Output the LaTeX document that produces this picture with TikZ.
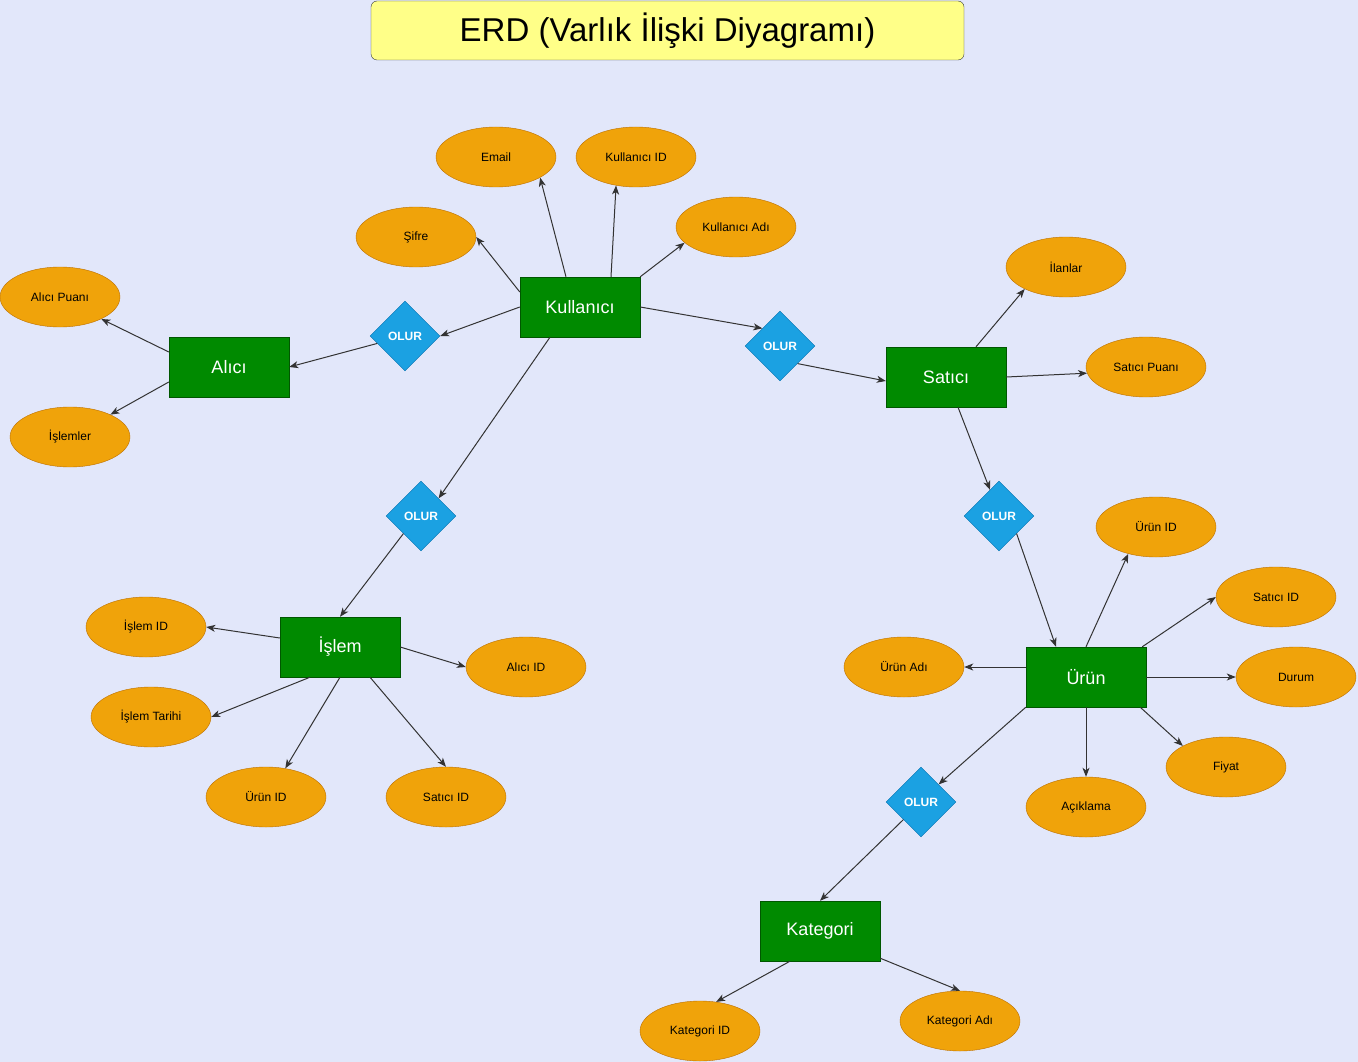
\documentclass[tikz,border=0pt]{standalone}
\usepackage{fontspec}
\setmainfont{Liberation Sans}
\usetikzlibrary{shapes.geometric,arrows.meta}
\definecolor{bgcol}{HTML}{E2E7FA}
\definecolor{entfill}{HTML}{008A00}
\definecolor{entline}{HTML}{005700}
\definecolor{attfill}{HTML}{F0A30A}
\definecolor{attline}{HTML}{BD7000}
\definecolor{relfill}{HTML}{1BA1E2}
\definecolor{relline}{HTML}{006EAF}
\definecolor{linkcol}{HTML}{333333}
\definecolor{titlefill}{HTML}{FFFF88}
\definecolor{titleline}{HTML}{36393D}
\begin{document}
\begin{tikzpicture}[x=1pt,y=-1pt,
  entity/.style={draw=entline,fill=entfill,text=white,minimum width=120pt,minimum height=60pt,inner sep=0pt,font=\fontsize{18}{20}\selectfont},
  attr/.style={ellipse,draw=attline,fill=attfill,minimum width=120pt,minimum height=60pt,inner sep=0pt,font=\fontsize{12}{14}\selectfont},
  rel/.style={diamond,draw=relline,fill=relfill,text=white,minimum width=70pt,minimum height=70pt,inner sep=0pt,font=\bfseries\fontsize{12}{14}\selectfont},
  link/.style={draw=linkcol,line width=1pt,-{Stealth[length=9pt,width=7pt,inset=2.5pt]}}]
  \fill[bgcol] (0,0) rectangle (1358,1062);
  \useasboundingbox (0,0) rectangle (1358,1062);
  \node[draw=titleline,fill=titlefill,rounded corners=6pt,minimum width=593pt,minimum height=59pt,font=\fontsize{33}{36}\selectfont] (title) at (667.5,30.5) {ERD (Varlık İlişki Diyagramı)};

  % entities
  \node[entity] (kul) at (580,307) {Kullanıcı};
  \node[entity] (alici) at (229,367) {Alıcı};
  \node[entity] (satici) at (946,377) {Satıcı};
  \node[entity] (islem) at (340,647) {İşlem};
  \node[entity] (urun) at (1086,677) {Ürün};
  \node[entity] (kat) at (820,931) {Kategori};

  % relations
  \node[rel] (olurL) at (405,336) {OLUR};
  \node[rel] (olurR) at (780,346) {OLUR};
  \node[rel] (olurI) at (421,516) {OLUR};
  \node[rel] (olurU) at (999,516) {OLUR};
  \node[rel] (olurK) at (921,802) {OLUR};

  % attributes
  \node[attr] (email) at (496,157) {Email};
  \node[attr] (kulid) at (636,157) {Kullanıcı ID};
  \node[attr] (sifre) at (416,237) {Şifre};
  \node[attr] (kuladi) at (736,227) {Kullanıcı Adı};
  \node[attr] (aliciP) at (60,297) {Alıcı Puanı};
  \node[attr] (islemler) at (70,437) {İşlemler};
  \node[attr] (ilanlar) at (1066,267) {İlanlar};
  \node[attr] (saticiP) at (1146,367) {Satıcı Puanı};
  \node[attr] (urunIDr) at (1156,527) {Ürün ID};
  \node[attr] (saticiIDr) at (1276,597) {Satıcı ID};
  \node[attr] (urunAdi) at (904,667) {Ürün Adı};
  \node[attr] (durum) at (1296,677) {Durum};
  \node[attr] (fiyat) at (1226,767) {Fiyat};
  \node[attr] (aciklama) at (1086,807) {Açıklama};
  \node[attr] (islemID) at (146,627) {İşlem ID};
  \node[attr] (islemT) at (151,717) {İşlem Tarihi};
  \node[attr] (aliciID) at (526,667) {Alıcı ID};
  \node[attr] (urunIDi) at (266,797) {Ürün ID};
  \node[attr] (saticiIDi) at (446,797) {Satıcı ID};
  \node[attr] (katID) at (700,1031) {Kategori ID};
  \node[attr] (katAdi) at (960,1021) {Kategori Adı};

  % Kullanıcı
  \draw[link] ([xshift=-14pt]kul.north) -- (email.-25);
  \draw[link] ([xshift=31pt]kul.north) -- (kulid.-125);
  \draw[link] ([yshift=15pt]kul.west) -- (sifre.east);
  \draw[link] (kul.north east) -- (kuladi.-163);
  \draw[link] (kul.west) -- (olurL.east);
  \draw[link] (olurL.-165) -- (alici.east);
  \draw[link] (kul.east) -- (olurR.north west);
  \draw[link] (olurR.south east) -- ([yshift=-4pt]satici.west);
  \draw[link] ([xshift=-30pt]kul.south) -- (olurI.north east);
  \draw[link] (olurI.south west) -- (islem.north);

  % Alıcı
  \draw[link] ([yshift=15pt]alici.west) -- (aliciP.-28);
  \draw[link] ([yshift=-15pt]alici.west) -- (islemler.29);

  % Satıcı
  \draw[link] ([xshift=30pt]satici.north) -- (ilanlar.-152);
  \draw[link] (satici.east) -- (saticiP.-174);
  \draw[link] ([xshift=12pt]satici.south) -- (olurU.109);
  \draw[link] (olurU.south east) -- ([xshift=-30pt]urun.north);

  % Ürün
  \draw[link] (urun.north) -- (urunIDr.-136);
  \draw[link] ([xshift=-4pt]urun.north east) -- (saticiIDr.west);
  \draw[link] ([yshift=10pt]urun.west) -- (urunAdi.east);
  \draw[link] (urun.east) -- (durum.west);
  \draw[link] ([xshift=-6pt]urun.south east) -- (fiyat.154);
  \draw[link] (urun.south) -- (aciklama.north);
  \draw[link] (urun.south west) -- (olurK.north east);
  \draw[link] (olurK.south west) -- (kat.north);

  % Kategori
  \draw[link] ([xshift=-30pt]kat.south) -- (katID.61);
  \draw[link] ([yshift=3pt]kat.south east) -- (katAdi.north);

  % İşlem
  \draw[link] ([yshift=9pt]islem.west) -- (islemID.east);
  \draw[link] ([xshift=-30pt]islem.south) -- (islemT.east);
  \draw[link] (islem.east) -- (aliciID.west);
  \draw[link] (islem.south) -- (urunIDi.56);
  \draw[link] ([xshift=30pt]islem.south) -- (saticiIDi.north);
\end{tikzpicture}
\end{document}
